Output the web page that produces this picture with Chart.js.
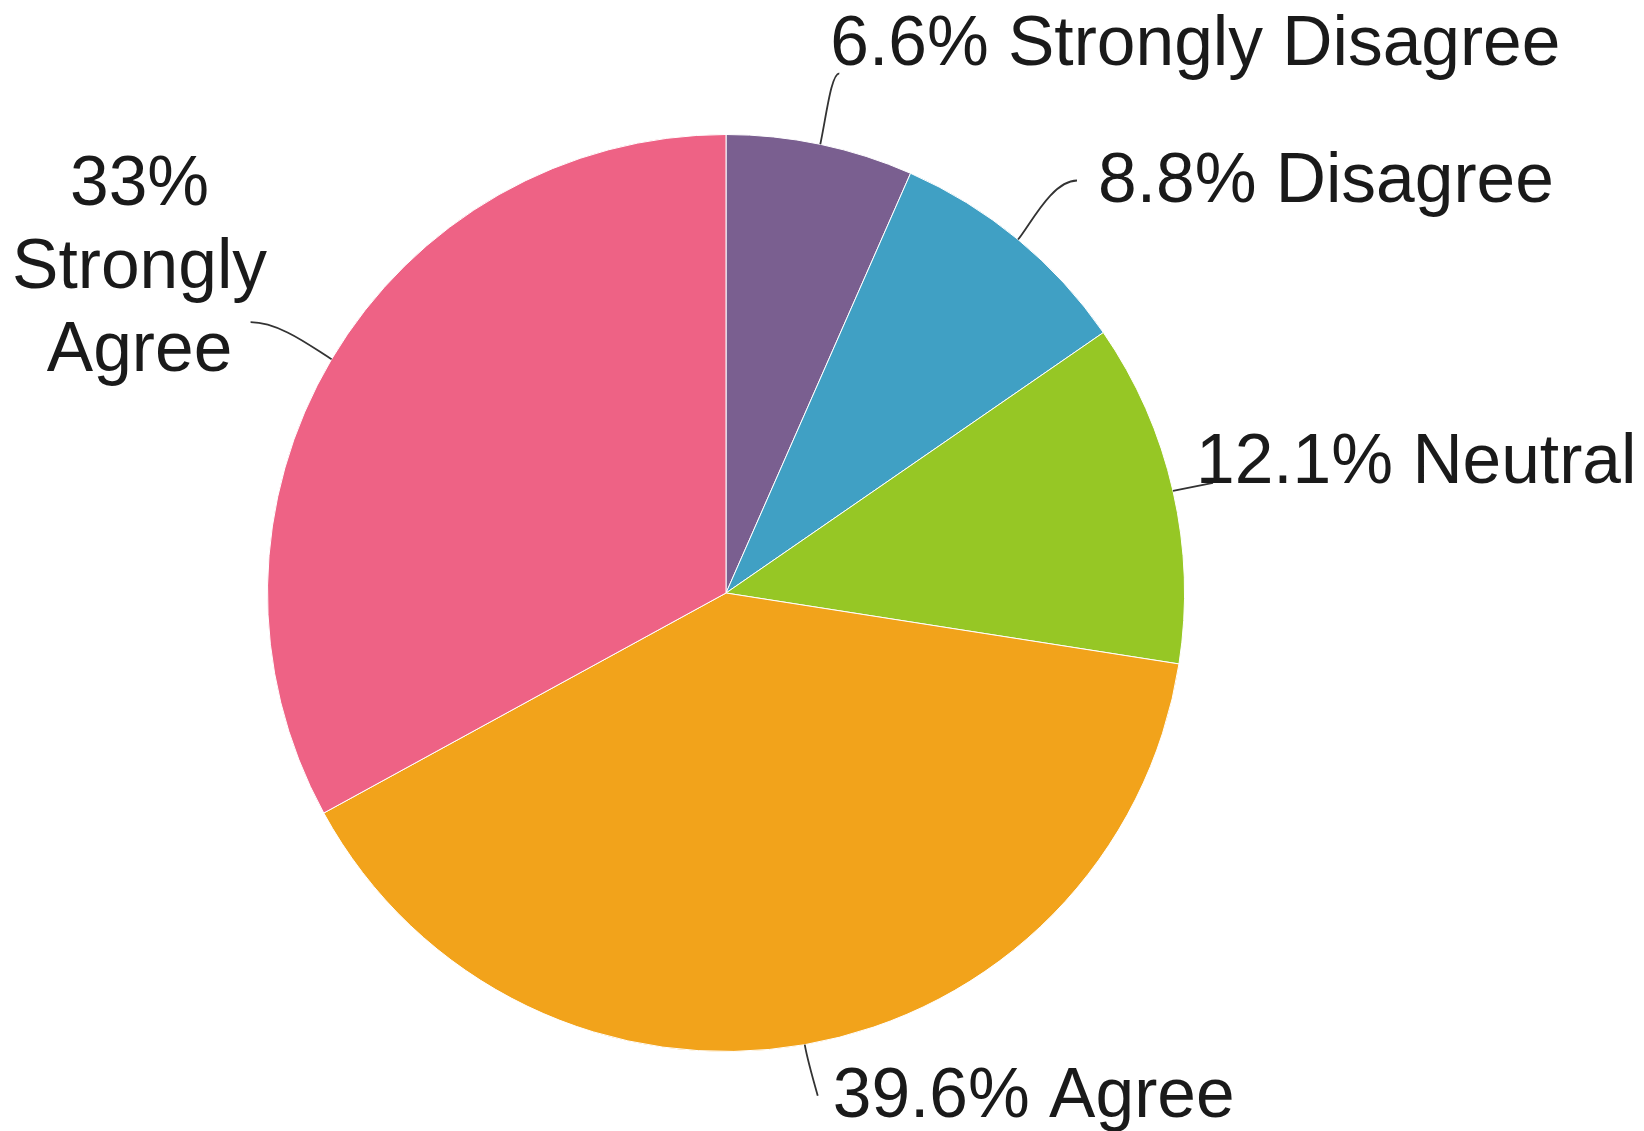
<!DOCTYPE html>
<html>
<head>
<meta charset="utf-8">
<script src="https://cdn.jsdelivr.net/npm/chart.js@4"></script>
<style>
  html, body { margin: 0; padding: 0; background: #ffffff; }
  #wrap { width: 1644px; height: 1131px; position: relative; }
</style>
</head>
<body>
<div id="wrap"><canvas id="pieChart"></canvas></div>
<script>
// chart data
const categories = ["Strongly Disagree", "Disagree", "Neutral", "Agree", "Strongly Agree"];
const percentages = [6.6, 8.8, 12.1, 39.6, 33];
const labelLines = [
  ["6.6% Strongly Disagree"],
  ["8.8% Disagree"],
  ["12.1% Neutral"],
  ["39.6% Agree"],
  ["33%", "Strongly", "Agree"]
];
const sliceColors = ["#7a5f90", "#40a0c4", "#96c725", "#f2a31b", "#ee6285"];

// where each label sits, relative to the slice edge (layout only)
// end: leader end offset from edge point, text: offset from leader end
const labelLayout = [
  { end: [19, -71], text: [-9, -8], align: "left", side: 1, a: 30, b: 8 },
  { end: [59, -59], text: [21, 21], align: "left", side: 1, a: 20, b: 25 },
  { end: [40, -8], text: [-17, 0], align: "left", side: 1, a: 0, b: 0 },
  { end: [13, 51], text: [15, 21], align: "left", side: 1, a: 15, b: 0 },
  { end: [-81, -37], text: [-111, -117], align: "center", side: -1, a: 20, b: 30 }
];
const lineGap = 83;
const labelFont = "69.5px 'Liberation Sans', Arial, sans-serif";

const outsideLabels = {
  id: "outsideLabels",
  afterDraw(c) {
    const ctx = c.ctx;
    const arcs = c.getDatasetMeta(0).data;
    ctx.save();
    arcs.forEach((arc, i) => {
      const p = arc.getProps(["x", "y", "startAngle", "endAngle", "outerRadius"], true);
      const mid = (p.startAngle + p.endAngle) / 2;
      const ux = Math.cos(mid), uy = Math.sin(mid);
      const ex = p.x + ux * p.outerRadius;
      const ey = p.y + uy * p.outerRadius;
      const L = labelLayout[i];
      const tx = ex + L.end[0], ty = ey + L.end[1];

      ctx.beginPath();
      ctx.moveTo(ex, ey);
      ctx.bezierCurveTo(ex + ux * L.a, ey + uy * L.a, tx - L.side * L.b, ty, tx, ty);
      ctx.strokeStyle = "#333333";
      ctx.lineWidth = 1.8;
      ctx.stroke();

      ctx.font = labelFont;
      ctx.fillStyle = "#1a1a1a";
      ctx.textAlign = L.align;
      ctx.textBaseline = "alphabetic";
      labelLines[i].forEach((line, k) => {
        ctx.fillText(line, tx + L.text[0], ty + L.text[1] + k * lineGap);
      });
    });
    ctx.restore();
  }
};

let chart;

function initChart() {
  chart = new Chart(
    document.getElementById("pieChart"),
    {
      type: "pie",
      data: {
        labels: categories,
        datasets: [{
          data: percentages,
          backgroundColor: sliceColors,
          borderColor: "#ffffff",
          borderWidth: 1,
          hoverOffset: 0,
          offset: 0
        }]
      },
      options: {
        responsive: false,
        animation: false,
        events: [],
        layout: { padding: { left: 267, right: 459, top: 134, bottom: 79 } },
        plugins: {
          legend: { display: false },
          tooltip: { enabled: false }
        }
      },
      plugins: [outsideLabels]
    }
  );
}

const cv = document.getElementById("pieChart");
cv.width = 1644;
cv.height = 1131;
initChart();
</script>
</body>
</html>
